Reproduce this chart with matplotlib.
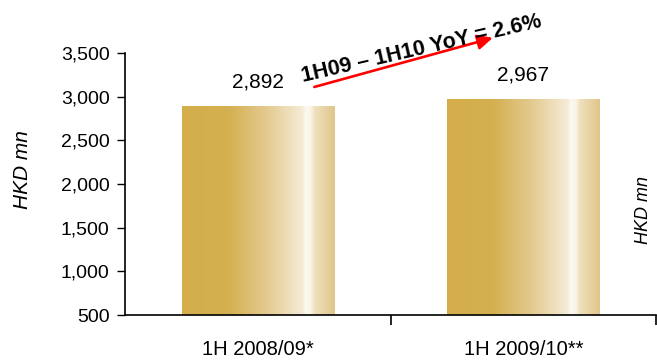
import matplotlib
matplotlib.use("Agg")
import matplotlib.pyplot as plt
import numpy as np
from matplotlib.colors import LinearSegmentedColormap
from matplotlib.ticker import FuncFormatter

plt.rcParams['font.family'] = ['Liberation Sans', 'DejaVu Sans']

# Data
periods = ["1H 2008/09*", "1H 2009/10**"]
revenue = [2892, 2967]
yoy_label = "1H09 \u2013 1H10 YoY = 2.6%"
unit = "HKD mn"

fig = plt.figure(figsize=(6.57, 3.6), dpi=100)
ax = fig.add_axes([125 / 657, 1 - 315 / 360, 531 / 657, 262 / 360])

# Gold-to-cream sheen used to fill each bar
stops = [(0.0, "#D4AE4B"), (0.30, "#D5B050"), (0.55, "#E3C98E"),
         (0.75, "#F2E6CB"), (0.79, "#F5ECD8"), (0.81, "#FCF9F0"),
         (0.845, "#FAF4E6"), (0.87, "#EFE0BD"), (1.0, "#E0C68A")]
sheen = LinearSegmentedColormap.from_list("sheen", stops)
grad = np.linspace(0, 1, 256).reshape(1, -1)

bar_w = 0.574
bars = ax.bar(range(len(periods)), revenue, width=bar_w, color="none",
              edgecolor="none", zorder=2)
for rect in bars:
    x0, w = rect.get_x(), rect.get_width()
    y0, h = rect.get_y(), rect.get_height()
    ax.imshow(grad, cmap=sheen, aspect="auto", interpolation="bicubic",
              extent=(x0, x0 + w, 500, y0 + h), zorder=2)
ax.set_xlim(-0.5, 1.5)
ax.set_ylim(500, 3500)

# Value labels above the bars
for i, v in enumerate(revenue):
    ax.annotate(f"{v:,}", xy=(i, v), xytext=(0, 13.5), textcoords="offset points",
                ha="center", va="baseline", fontsize=15, color="black")

# Growth arrow with its caption
ax.annotate("", xy=(0.885, 3673), xytext=(0.213, 3111),
            arrowprops=dict(arrowstyle="-|>,head_length=0.9,head_width=0.45",
                            color="#FF0000", lw=1.9, shrinkA=0, shrinkB=0),
            annotation_clip=False, zorder=4)
ax.text(0.617, 3550, yoy_label, rotation=13, rotation_mode="anchor",
        ha="center", va="center", fontsize=15.5, fontweight="bold",
        color="black", zorder=5, clip_on=False)

# Axes styling
for s in ("top", "right"):
    ax.spines[s].set_visible(False)
for s in ("left", "bottom"):
    ax.spines[s].set_color("black")
    ax.spines[s].set_linewidth(1.2)

ax.set_yticks(np.arange(500, 3501, 500))
ax.yaxis.set_major_formatter(FuncFormatter(lambda v, p: f"{int(v):,}"))
ax.tick_params(axis="y", direction="out", length=6, width=1, labelsize=14,
               pad=5, colors="black")

ax.set_xticks([0.5, 1.5])
ax.set_xticklabels([])
ax.tick_params(axis="x", which="major", direction="out", length=7, width=1.2)
ax.set_xticks([0, 1], minor=True)
ax.set_xticklabels(periods, minor=True)
ax.tick_params(axis="x", which="minor", length=0, pad=18, labelsize=14.5)

fig.text(22 / 657, 1 - 170 / 360, unit, rotation=90, style="italic",
         fontsize=15, ha="center", va="center")
fig.text(643 / 657, 1 - 210 / 360, unit, rotation=90, style="italic",
         fontsize=13, ha="center", va="center")

fig.savefig("out.png", dpi=100)
